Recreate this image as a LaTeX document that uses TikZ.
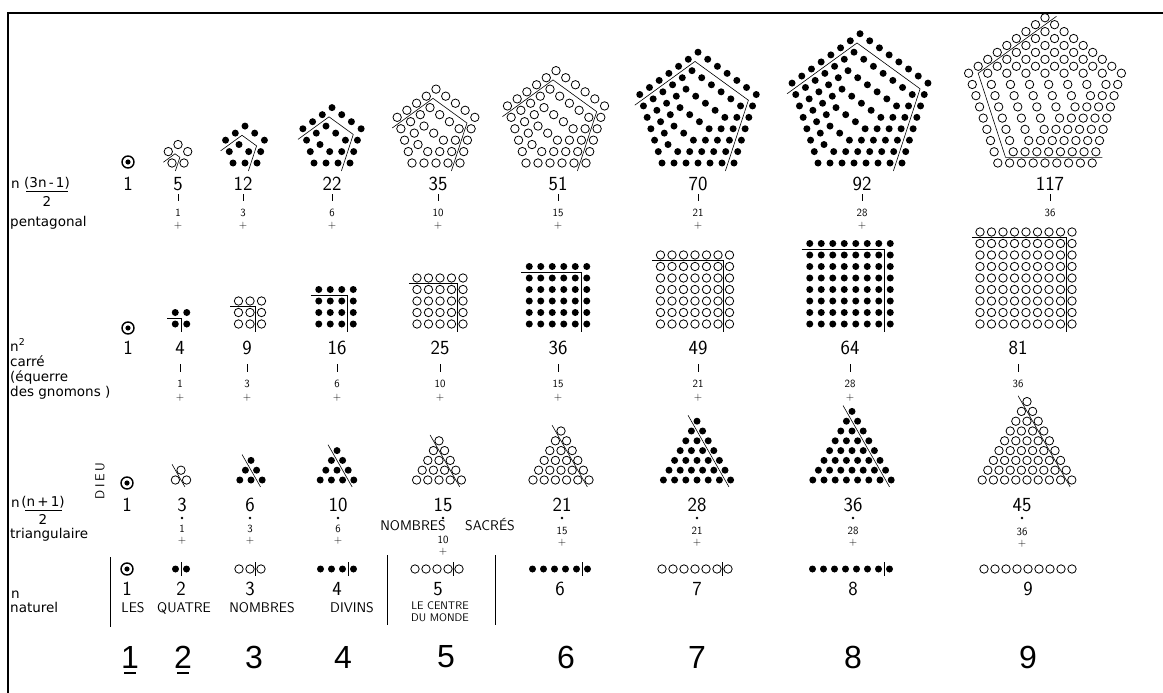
\documentclass[tikz,border=0pt]{standalone}
\usepackage{fontspec}
\newfontfamily\lblfont{DejaVu Sans}
\newfontfamily\bigfont{Liberation Sans}
\usetikzlibrary{calc}
\tikzset{
  opendot/.style={draw, line width=0.8pt, radius=4.2},
  fulldot/.style={fill, radius=3.5},
  gline/.style={line width=0.6pt},
  tick/.style={line width=0.7pt},
  num/.style={font=\fontsize{20}{22}\selectfont\sffamily, inner sep=0pt},
  small/.style={font=\fontsize{11}{12}\selectfont\sffamily, inner sep=0pt},
  lbl/.style={font=\fontsize{13.5}{15}\selectfont\lblfont, anchor=base west, inner sep=0pt},
  caps/.style={font=\fontsize{14}{16}\selectfont\sffamily, inner sep=0pt, anchor=base},
  big/.style={font=\fontsize{32}{35}\selectfont\bigfont, inner sep=0pt},
}
% the unit, drawn as a dot in a ring
\newcommand{\unitdot}[2]{%
  \draw[line width=1.4pt] (#1,-#2) circle[radius=6];
  \fill (#1,-#2) circle[radius=2.6];}
% square of n x n dots with its gnomon
\newcommand{\sqdots}[5]{%
  \foreach \i in {1,...,#3}{\foreach \j in {1,...,#3}{
    \path[#5] ({#1+(\i-(#3+1)/2)*#4},{-#2+(\j-1)*#4}) circle;}}
  \draw[gline] ({#1-((#3-1)/2+0.7)*#4},{-#2+(#3-1.5)*#4})
    -- ({#1+(#3-2)/2*#4},{-#2+(#3-1.5)*#4}) -- ({#1+(#3-2)/2*#4},{-#2-0.7*#4});}
% triangle of n rows
\newcommand{\tridots}[6]{%
  \foreach \k in {1,...,#3}{\foreach \j in {1,...,\k}{
    \path[#6] ({#1+(\j-(\k+1)/2)*#4},{-#2+(#3-\k)*#5}) circle;}}
  \draw[gline] ({#1+(0.4-2)/2*#4},{-#2+(#3-0.4)*#5})
    -- ({#1+(#3+0.7-2)/2*#4},{-#2-0.7*#5});}
% row of n dots
\newcommand{\natdots}[6]{%
  \foreach \i in {1,...,#3}{\path[#5] ({#1+(\i-(#3+1)/2)*#4},-#2) circle;}
  \path[#6] ({#1+(#3-2)/2*#4},{-#2-0.6*#4}) -- ({#1+(#3-2)/2*#4},{-#2+0.6*#4});}
% nested pentagons on a shared corner
\newcommand{\pentdots}[6]{%
  \pgfmathsetmacro{\pL}{(#3-1)*#4}
  \pgfmathsetmacro{\pvx}{#1+0.850651*\pL*cos(#5-126)}
  \pgfmathsetmacro{\pvy}{-#2+0.688191*\pL+0.850651*\pL*sin(#5-126)}
  \pgfmathtruncatemacro{\pN}{#3-1}
  \pgfmathsetmacro{\pq}{(#3-1.5)*#4}
  \path[#6] (\pvx,\pvy) circle;
  \foreach \m in {1,...,\pN}{
    \path[#6] ({\pvx+\m*#4*cos(#5)},{\pvy+\m*#4*sin(#5)}) circle;
    \foreach \i in {1,2,3}{\foreach \k in {1,...,\m}{
      \path[#6] ({\pvx+\m*#4*cos(#5)+(\i>1)*\m*#4*cos(#5+72)+(\i>2)*\m*#4*cos(#5+144)+\k*#4*cos(#5+72*\i)},
                 {\pvy+\m*#4*sin(#5)+(\i>1)*\m*#4*sin(#5+72)+(\i>2)*\m*#4*sin(#5+144)+\k*#4*sin(#5+72*\i)}) circle;}}}
  \draw[gline] ($(\pvx,\pvy)+(#5:\pq)-(#5+72:0.7*#4)$) -- ++(#5+72:\pq+0.7*#4)
    -- ++(#5+144:\pq) -- ++(#5+216:\pq+0.7*#4);}

\begin{document}
\begin{tikzpicture}[x=1pt,y=1pt]
  \useasboundingbox (0,0) rectangle (1163,-693);
  \fill[white] (0,0) rectangle (1163,-693);
  \draw[line width=2.5pt] (1163,-13) -- (8,-13) -- (8,-693);

  % row labels
  \node[lbl] (pn) at (11,-188) {n};
  \node[lbl, anchor=base] (pnum) at (47,-187) {(3n\,-\,1)};
  \node[lbl, anchor=base] (pden) at (47,-206) {2};
  \draw[gline] (26,-191) -- (68,-191);
  \node[lbl] (pname) at (10,-226) {pentagonal};
  \node[lbl] (qn) at (10,-351) {n\textsuperscript{2}};
  \node[lbl] (qname) at (10,-366) {carré};
  \node[lbl] (qsub) at (10,-381) {(équerre};
  \node[lbl] (qsubb) at (10,-396) {des gnomons )};
  \node[lbl] (tn) at (11,-507) {n};
  \node[lbl, anchor=base] (tnum) at (43,-506) {(n\,+\,1)};
  \node[lbl, anchor=base] (tden) at (43,-524) {2};
  \draw[gline] (25,-510) -- (62,-510);
  \node[lbl] (tname) at (10,-538) {triangulaire};
  \node[lbl] (nn) at (11,-598) {n};
  \node[lbl] (nname) at (10,-612) {naturel};
  \node[caps, anchor=center, rotate=90, font=\fontsize{13}{14}\selectfont\sffamily] (dieu) at (100,-481) {D\hspace{2.5pt}I\hspace{2.5pt}E\hspace{2.5pt}U};

  % the unit
  \unitdot{128}{162}
  \unitdot{128}{328}
  \unitdot{127}{483}
  \unitdot{127}{569}

  % pentagonal
  \pentdots{178}{163}{2}{12}{0}{opendot}
  \pentdots{245}{163}{3}{12}{0}{fulldot}
  \pentdots{332}{163}{4}{12}{0}{fulldot}
  \pentdots{436}{163}{5}{12}{0}{opendot}
  \pentdots{556}{163}{6}{12}{0}{opendot}
  \pentdots{698}{163}{7}{12}{0}{fulldot}
  \pentdots{860}{163}{8}{12}{0}{fulldot}
  \pentdots{1045}{163}{9}{11.8}{144}{opendot}
  \foreach \x/\v [count=\i] in {128/1,178/5,243/12,332/22,438/35,558/51,698/70,862/92,1050/117}
    \node[num] (p\i) at (\x,-184) {\v};
  \foreach \x/\v [count=\i] in {178/1,243/3,332/6,438/10,558/15,698/21,862/28,1050/36}{
    \draw[tick] (\x,-194) -- (\x,-201);
    \node[small] (pg\i) at (\x,-213) {\v};}
  \foreach \x [count=\i] in {178,243,332,438,558,698,862}
    \node[small] (pc\i) at (\x,-226) {+};

  % squares
  \sqdots{181}{324}{2}{11.5}{fulldot}
  \sqdots{250}{324}{3}{11.5}{opendot}
  \sqdots{336}{324}{4}{11.5}{fulldot}
  \sqdots{440}{324}{5}{11.5}{opendot}
  \sqdots{558}{324}{6}{11.5}{fulldot}
  \sqdots{695}{324}{7}{11.5}{opendot}
  \sqdots{850}{324}{8}{11.5}{fulldot}
  \sqdots{1026}{324}{9}{11.5}{opendot}
  \foreach \x/\v [count=\i] in {128/1,180/4,247/9,337/16,440/25,558/36,698/49,850/64,1018/81}
    \node[num] (q\i) at (\x,-348) {\v};
  \foreach \x/\v [count=\i] in {180/1,247/3,337/6,440/10,558/15,698/21,850/28,1018/36}{
    \draw[tick] (\x,-364) -- (\x,-372);
    \node[small] (qg\i) at (\x,-384) {\v};}
  \foreach \x [count=\i] in {180,247,337,440,558,698,850}
    \node[small] (qc\i) at (\x,-398) {+};

  % triangles
  \tridots{181}{480}{2}{11.2}{9.8}{opendot}
  \tridots{251}{480}{3}{11.2}{9.8}{fulldot}
  \tridots{337}{480}{4}{11.2}{9.8}{fulldot}
  \tridots{439}{480}{5}{11.2}{9.8}{opendot}
  \tridots{561}{480}{6}{11.2}{9.8}{opendot}
  \tridots{697}{480}{7}{11.2}{9.8}{fulldot}
  \tridots{852}{480}{8}{11.2}{9.8}{fulldot}
  \tridots{1027}{480}{9}{11.2}{9.8}{opendot}
  \foreach \x/\v [count=\i] in {127/1,182/3,250/6,338/10,443/15,562/21,697/28,853/36,1022/45}
    \node[num] (t\i) at (\x,-505) {\v};
  \foreach \x/\v/\y [count=\i] in {182/1/529,250/3/529,338/6/529,443/10/540,562/15/531,697/21/531,853/28/531,1022/36/532}{
    \fill (\x,-518) circle[radius=1.3];
    \node[small] (tg\i) at (\x,-\y) {\v};
    \node[small] (tc\i) at (\x,-\y-12) {+};}
  \node[caps] (nomb) at (413,-530) {NOMBRES};
  \node[caps] (sacr) at (490,-530) {SACRÉS};

  % natural numbers
  \natdots{181}{569}{2}{11}{fulldot}{draw, gline}
  \natdots{250}{569}{3}{11}{opendot}{draw, gline}
  \natdots{337}{569}{4}{11}{fulldot}{draw, gline}
  \natdots{437}{569}{5}{11}{opendot}{draw, gline}
  \natdots{560}{569}{6}{11}{fulldot}{draw, gline}
  \natdots{695}{569}{7}{11}{opendot}{draw, gline}
  \natdots{851}{569}{8}{11}{fulldot}{draw, gline}
  \natdots{1028}{569}{9}{11}{opendot}{draw=none}
  \foreach \x/\v [count=\i] in {127/1,181/2,250/3,337/4,438/5,560/6,697/7,853/8,1028/9}
    \node[num] (n\i) at (\x,-589) {\v};
  \draw[line width=1pt] (110,-557) -- (110,-627);
  \draw[line width=1pt] (387,-555) -- (387,-625);
  \draw[line width=1pt] (495,-555) -- (495,-625);
  \node[caps] (les) at (133,-612) {LES};
  \node[caps] (quat) at (184,-612) {QUATRE};
  \node[caps] (nombd) at (262,-612) {NOMBRES};
  \node[caps] (div) at (352,-612) {DIVINS};
  \node[caps, font=\fontsize{11}{12}\selectfont\sffamily] (cen) at (440,-609) {LE CENTRE};
  \node[caps, font=\fontsize{11}{12}\selectfont\sffamily] (mon) at (440,-621) {DU MONDE};

  % the nine
  \foreach \x/\v [count=\i] in {130/1,183/2,254/3,343/4,446/5,566/6,697/7,853/8,1028/9}
    \node[big] (b\i) at (\x,-657) {\v};
  \draw[line width=2pt] (124,-673) -- (136,-673);
  \draw[line width=2pt] (177,-673) -- (189,-673);
\end{tikzpicture}
\end{document}
